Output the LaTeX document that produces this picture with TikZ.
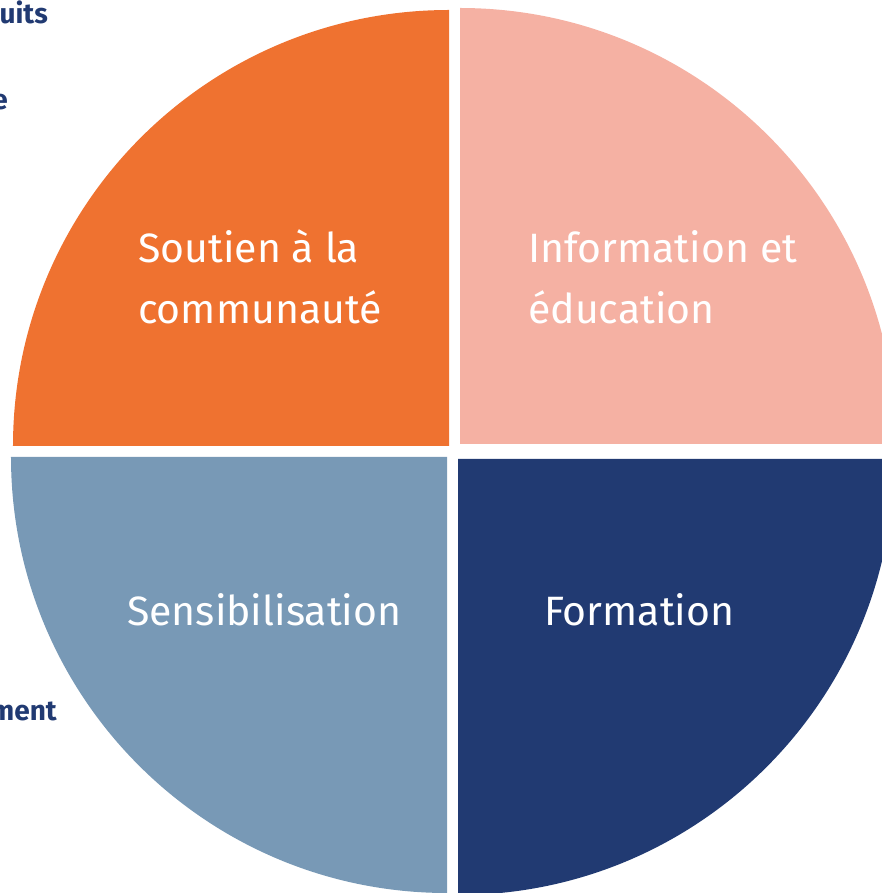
\documentclass[tikz,border=0pt]{standalone}
\usepackage{fontspec}
\setmainfont{Fira Sans}
\definecolor{soutien}{HTML}{EF7230}
\definecolor{info}{HTML}{F5B1A3}
\definecolor{sensib}{HTML}{7899B6}
\definecolor{navy}{HTML}{213A72}

\tikzset{
  quartlabel/.style={text=white, align=left, inner sep=0pt, font=\fontsize{41}{61}\selectfont},
  cutlabel/.style={text=navy, inner sep=0pt, font=\fontsize{28}{32}\selectfont\bfseries}
}

\begin{document}
\begin{tikzpicture}[x=1pt,y=1pt]

            \useasboundingbox (-453,-441) rectangle (429,452);
            \clip (-453,-441) rectangle (429,452);

            % four quarter disks, each shifted off the centre
            \foreach \cx/\cy/\a/\col in {-4/6/90/soutien, 7/8/0/info, -6/-5/180/sensib, 5/-7/270/navy}{
              \fill[\col] (\cx,\cy) -- ++(\a:436) arc[start angle=\a, delta angle=90, radius=436] -- cycle;
            }

            \node[quartlabel, anchor=west] (soutien) at (-315,175) {Soutien à la\\communauté};
            \node[quartlabel, anchor=west] (info) at (75,175) {Information et\\éducation};
            \node[quartlabel, anchor=west] (sensib) at (-326,-158) {Sensibilisation};
            \node[quartlabel, anchor=west] (formation) at (91,-158) {Formation};

            % bits of text cut off at the left margin
            \node[cutlabel, anchor=base east] (produits) at (-405,428) {uits};
            \node[cutlabel, anchor=base east] (ligne) at (-445,342) {e};
            \node[cutlabel, anchor=base east] (engagement) at (-396,-268) {ment};

        \end{tikzpicture}
\end{document}
